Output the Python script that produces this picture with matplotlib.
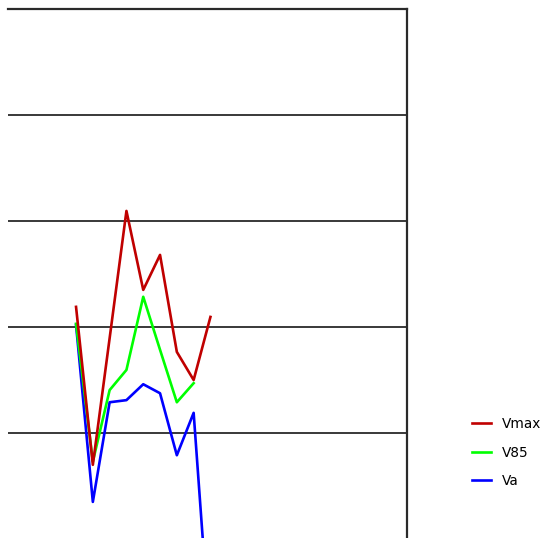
import matplotlib
matplotlib.use("Agg")
from matplotlib import pyplot as plt

# x positions (measurement points) and the three speed series
points = [0, 1, 2, 3, 4, 5, 6, 7, 8]
vmax = [43.8, 14.0, 37.9, 61.9, 47.0, 53.6, 35.3, 30.0, 41.9]
v85 = [40.6, 14.6, 28.1, 31.9, 45.7, 35.7, 25.8, 29.4, None]
va = [40.4, 7.0, 25.8, 26.2, 29.2, 27.5, 15.8, 23.8, -20.0]
grid_levels = [20, 40, 60, 80]

series = [
    ("Vmax", vmax, "#c00000"),
    ("V85", v85, "#00ff00"),
    ("Va", va, "#0000ff"),
]

fig = plt.figure(figsize=(5.56, 5.38), dpi=100)
ax = fig.add_axes([8 / 556, -1 / 538, (407 - 8) / 556, (539 - 9) / 538])

for level in grid_levels:
    ax.axhline(level, color="#2a2a2a", lw=1.3, zorder=1)

# draw in reverse so red sits on top
for name, values, color in reversed(series):
    xs = [x for x, v in zip(points, values) if v is not None]
    ys = [v for v in values if v is not None]
    ax.plot(xs, ys, color=color, lw=1.9, label=name, zorder=3)

ax.set_xlim(-4.05, 19.7)
ax.set_ylim(0, 100)
for side in ["left", "bottom"]:
    ax.spines[side].set_visible(False)
for side in ["right", "top"]:
    ax.spines[side].set_color("#2a2a2a")
    ax.spines[side].set_linewidth(1.6)
ax.set_xticks([])
ax.set_yticks([])

handles, labels = ax.get_legend_handles_labels()
order = [2, 1, 0]
fig.legend([handles[i] for i in order], [labels[i] for i in order],
           loc="upper left", bbox_to_anchor=(460 / 556, 1 - 405 / 538),
           frameon=False, handlelength=1.4, handletextpad=0.8,
           labelspacing=1.05, prop={"family": "DejaVu Sans", "size": 9.8})

fig.savefig("out.png", dpi=100, facecolor="white")
